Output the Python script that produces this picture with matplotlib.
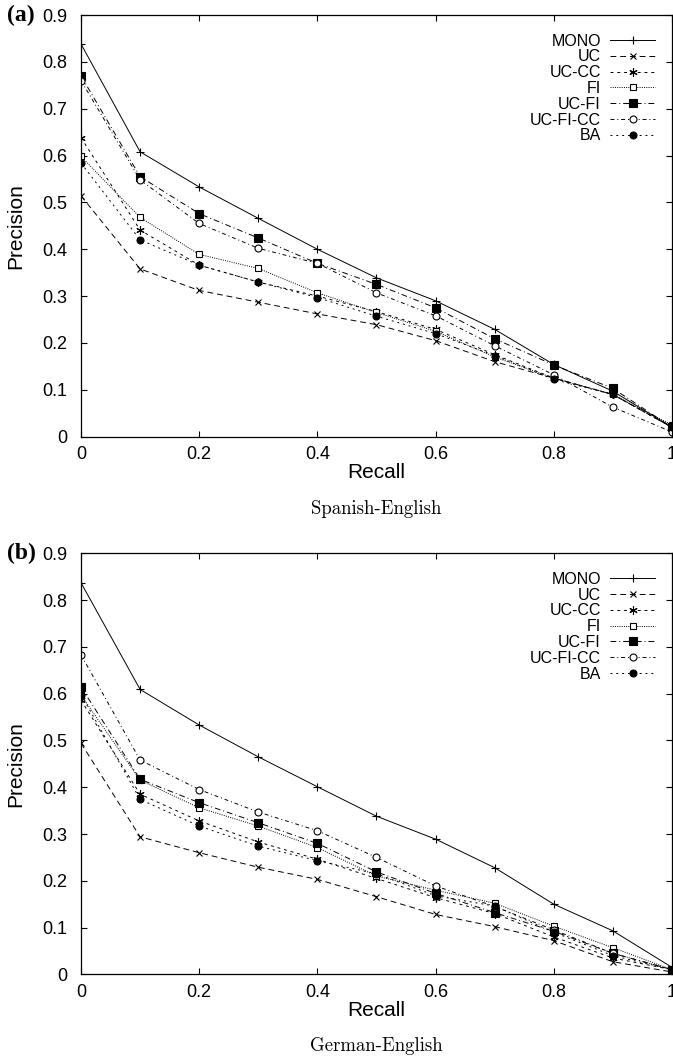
import numpy as np
import matplotlib.pyplot as plt

# recall levels (x axis)
recall = [0, 0.1, 0.2, 0.3, 0.4, 0.5, 0.6, 0.7, 0.8, 0.9, 1.0]
names = ['MONO', 'UC', 'UC-CC', 'FI', 'UC-FI', 'UC-FI-CC', 'BA']

# (a) Spanish-English
es_mono = [0.838, 0.608, 0.533, 0.466, 0.400, 0.339, 0.290, 0.229, 0.154, 0.097, 0.020]
es_uc = [0.514, 0.358, 0.312, 0.287, 0.262, 0.239, 0.205, 0.160, 0.125, 0.090, 0.020]
es_uccc = [0.638, 0.441, 0.366, 0.330, 0.300, 0.267, 0.229, 0.175, 0.125, 0.090, 0.020]
es_fi = [0.598, 0.468, 0.389, 0.359, 0.307, 0.265, 0.225, 0.170, 0.125, 0.090, 0.025]
es_ucfi = [0.770, 0.555, 0.476, 0.424, 0.370, 0.325, 0.275, 0.209, 0.153, 0.103, 0.020]
es_ucficc = [0.760, 0.548, 0.455, 0.402, 0.370, 0.307, 0.258, 0.194, 0.132, 0.063, 0.010]
es_ba = [0.584, 0.420, 0.366, 0.330, 0.297, 0.257, 0.220, 0.173, 0.122, 0.090, 0.020]

# (b) German-English
de_mono = [0.837, 0.609, 0.533, 0.465, 0.401, 0.338, 0.289, 0.228, 0.150, 0.093, 0.015]
de_uc = [0.494, 0.294, 0.260, 0.229, 0.203, 0.166, 0.128, 0.102, 0.072, 0.027, 0.005]
de_uccc = [0.586, 0.385, 0.328, 0.283, 0.246, 0.205, 0.164, 0.130, 0.080, 0.035, 0.010]
de_fi = [0.597, 0.415, 0.356, 0.317, 0.271, 0.210, 0.180, 0.152, 0.103, 0.057, 0.010]
de_ucfi = [0.614, 0.417, 0.367, 0.324, 0.280, 0.219, 0.173, 0.132, 0.092, 0.045, 0.010]
de_ucficc = [0.683, 0.458, 0.395, 0.347, 0.307, 0.250, 0.189, 0.145, 0.095, 0.045, 0.010]
de_ba = [0.598, 0.374, 0.317, 0.274, 0.243, 0.215, 0.168, 0.146, 0.090, 0.040, 0.010]

styles = [
    dict(ls='-', marker='+', ms=6, mfc='k'),
    dict(ls=(0, (6, 4)), marker='x', ms=5, mfc='k'),
    dict(ls=(0, (3, 4)), marker=(6, 2, 0), ms=6, mfc='k'),
    dict(ls=(0, (1, 1.3)), marker='s', ms=5, mfc='white'),
    dict(ls=(0, (6, 3, 1, 3)), marker='s', ms=5.5, mfc='k'),
    dict(ls=(0, (4, 3, 1, 3)), marker='o', ms=5, mfc='white'),
    dict(ls=(0, (2, 4)), marker='o', ms=5, mfc='k'),
]

plt.rcParams['font.family'] = ['Liberation Sans', 'DejaVu Sans']

fig = plt.figure(figsize=(6.73, 10.57), dpi=100)
ax1 = fig.add_axes([0.1204, 0.5869, 0.878, 0.3989])
ax2 = fig.add_axes([0.1204, 0.0782, 0.878, 0.3983])

panels = [
    (ax1, [es_mono, es_uc, es_uccc, es_fi, es_ucfi, es_ucficc, es_ba], '(a)', 'Spanish-English'),
    (ax2, [de_mono, de_uc, de_uccc, de_fi, de_ucfi, de_ucficc, de_ba], '(b)', 'German-English'),
]

for ax, series, tag, caption in panels:
    for name, vals, st in zip(names, series, styles):
        ax.plot(recall, vals, color='k', lw=0.7, ls=st['ls'], marker=st['marker'],
                ms=st['ms'], mfc=st['mfc'], mec='k', mew=0.8, label=name)
    ax.set_xlim(0, 1)
    ax.set_ylim(0, 0.9)
    ax.set_xticks([0, 0.2, 0.4, 0.6, 0.8, 1.0])
    ax.set_xticklabels(['0', '0.2', '0.4', '0.6', '0.8', '1'])
    ax.set_yticks(np.arange(0, 0.91, 0.1))
    ax.set_yticklabels(['0'] + ['%.1f' % v for v in np.arange(0.1, 0.91, 0.1)])
    ax.tick_params(direction='in', length=4, width=0.8, top=True, right=True,
                   labelsize=13)
    ax.tick_params(axis='y', pad=10)
    ax.tick_params(axis='x', pad=7)
    for sp in ax.spines.values():
        sp.set_linewidth(0.9)
    ax.set_xlabel('Recall', fontsize=15, labelpad=0)
    ax.set_ylabel('Precision', fontsize=15, labelpad=12)
    ax.legend(loc='upper right', bbox_to_anchor=(0.985, 0.975), frameon=False,
              markerfirst=False, fontsize=11.5, handlelength=2.8, handletextpad=0.6,
              labelspacing=0.05, borderpad=0)
    pos = ax.get_position()
    fig.text(pos.x0 - 0.110, pos.y1, tag, fontsize=17, fontweight='bold',
             family='Liberation Serif', va='center', ha='left')
    fig.text((pos.x0 + pos.x1) / 2, pos.y0 - 0.068, caption, fontsize=13.5,
             family='cmr10', ha='center', va='center')

plt.savefig('out.png', dpi=100)
